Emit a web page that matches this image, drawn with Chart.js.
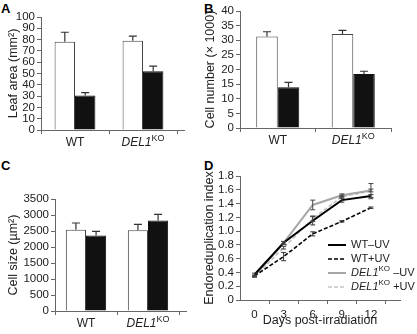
<!DOCTYPE html>
<html>
<head>
<meta charset="utf-8">
<script src="https://cdn.jsdelivr.net/npm/chart.js@4.4.0/dist/chart.umd.min.js"></script>
<style>
  body { margin: 0; background: #fff; width: 417px; height: 334px; position: relative; overflow: hidden; }
  canvas { position: absolute; }
  .lt { position: absolute; font: bold 13px 'Liberation Sans', Arial, sans-serif; line-height: 13px; color: #000; }
</style>
</head>
<body>
<div class="lt" style="left:1px;top:2px">A</div>
<div class="lt" style="left:204px;top:2px">B</div>
<div class="lt" style="left:1px;top:159px">C</div>
<div class="lt" style="left:204px;top:159px">D</div>
<canvas id="cA" width="200" height="160" style="left:0;top:0"></canvas>
<canvas id="cB" width="217" height="160" style="left:200px;top:0"></canvas>
<canvas id="cC" width="200" height="169" style="left:0;top:165px"></canvas>
<canvas id="cD" width="217" height="169" style="left:200px;top:165px"></canvas>
<script>
// data
const genotypes = ['WT', 'DEL1KO'];

const leafCtrl = [78, 79];
const leafCtrlErr = [8.5, 4];
const leafUV = [30.5, 52];
const leafUVErr = [2.5, 4.5];

const cellNumCtrl = [31.3, 32.1];
const cellNumCtrlErr = [1.6, 1.3];
const cellNumUV = [13.9, 18.5];
const cellNumUVErr = [1.7, 0.9];

const cellSizeCtrl = [2540, 2520];
const cellSizeCtrlErr = [210, 190];
const cellSizeUV = [2360, 2830];
const cellSizeUVErr = [130, 190];

const days = [0, 3, 6, 9, 12];
const endoTicks = [0, 0.2, 0.4, 0.6, 0.8, 1.0, 1.2, 1.4, 1.6, 1.8];
const lineNames = ['WT–UV', 'WT+UV', 'DEL1KO –UV', 'DEL1KO +UV'];
const wtMinus = [0.37, 0.83, 1.15, 1.45, 1.51];
const wtMinusErr = [0.02, 0.02, 0.06, 0.03, 0.02];
const wtPlus = [0.35, 0.63, 0.96, 1.14, 1.34];
const wtPlusErr = [0.01, 0.06, 0.03, 0.01, 0.01];
const delMinus = [0.35, 0.83, 1.38, 1.52, 1.59];
const delMinusErr = [0.01, 0.02, 0.07, 0.02, 0.02];
const delPlus = [0.34, 0.76, 1.18, 1.50, 1.58];
const delPlusErr = [0.01, 0.02, 0.04, 0.02, 0.11];

const FONT = "'Liberation Sans', Arial, sans-serif";
const axisCol = '#666';
const TICK = 11.5, TITLE = 12.5;
Chart.defaults.font.family = FONT;
Chart.defaults.font.size = TICK;
Chart.defaults.color = '#222';
Chart.defaults.animation = false;

// italic DEL1 with superscript KO
function richParts(t) {
  if (t.startsWith('DEL1KO')) {
    return [{ s: 'DEL1', f: 'i' }, { s: 'KO', f: 'sup' }, { s: t.slice(6), f: '' }];
  }
  return [{ s: t, f: '' }];
}
function partFont(p, size) {
  if (p.f === 'i') return 'italic ' + size + 'px ' + FONT;
  if (p.f === 'sup') return Math.round(size * 0.72) + 'px ' + FONT;
  return size + 'px ' + FONT;
}
function drawRich(ctx, t, x, y, align, size) {
  const parts = richParts(t);
  let total = 0;
  parts.forEach(p => { ctx.font = partFont(p, size); p.w = ctx.measureText(p.s).width; total += p.w; });
  let cx = align === 'center' ? x - total / 2 : x;
  ctx.textAlign = 'left';
  ctx.textBaseline = 'middle';
  parts.forEach(p => {
    ctx.font = partFont(p, size);
    ctx.fillText(p.s, cx, p.f === 'sup' ? y - size * 0.38 : y);
    cx += p.w;
  });
}

const extras = {
  id: 'extras',
  afterDatasetsDraw(chart, args, opts) {
    const ctx = chart.ctx;
    const ys = chart.scales.y;
    ctx.save();
    chart.data.datasets.forEach((ds, di) => {
      if (!ds.errors) return;
      const meta = chart.getDatasetMeta(di);
      ctx.strokeStyle = ds.errColor || '#333';
      ctx.lineWidth = ds.errWidth || 1.2;
      meta.data.forEach((el, i) => {
        const v = ds.data[i];
        const val = typeof v === 'object' ? v.y : v;
        const top = ys.getPixelForValue(val + ds.errors[i]);
        const bot = ds.errUpOnly ? el.y : ys.getPixelForValue(val - ds.errors[i]);
        const cw = ds.capW || 4;
        ctx.beginPath();
        ctx.moveTo(el.x, bot); ctx.lineTo(el.x, top);
        ctx.moveTo(el.x - cw, top); ctx.lineTo(el.x + cw, top);
        if (!ds.errUpOnly) { ctx.moveTo(el.x - cw, bot); ctx.lineTo(el.x + cw, bot); }
        ctx.stroke();
      });
    });
    ctx.restore();
  },
  afterDraw(chart, args, opts) {
    const ctx = chart.ctx;
    const area = chart.chartArea;
    ctx.save();
    if (opts.axisExt) {
      ctx.strokeStyle = axisCol;
      ctx.lineWidth = 1;
      ctx.beginPath();
      ctx.moveTo(area.right, area.bottom + 0.5);
      ctx.lineTo(area.right + opts.axisExt, area.bottom + 0.5);
      ctx.stroke();
    }
    if (opts.richX) {
      const xs = chart.scales.x;
      ctx.fillStyle = '#222';
      chart.data.labels.forEach((lab, i) => {
        drawRich(ctx, lab, xs.getPixelForTick(i), area.bottom + 13, 'center', 12);
      });
    }
    if (opts.legend) {
      const lg = opts.legend;
      chart.data.datasets.forEach((ds, i) => {
        const y = lg.y + i * lg.gap;
        ctx.strokeStyle = ds.borderColor;
        ctx.lineWidth = ds.borderWidth;
        ctx.setLineDash(ds.borderDash || []);
        ctx.beginPath();
        ctx.moveTo(lg.x, y); ctx.lineTo(lg.x + lg.len, y);
        ctx.stroke();
        ctx.setLineDash([]);
        ctx.fillStyle = '#222';
        drawRich(ctx, ds.label, lg.x + lg.len + 5, y, 'left', 11);
      });
    }
    ctx.restore();
  }
};

function barChart(id, p) {
  return new Chart(document.getElementById(id), {
    type: 'bar',
    data: {
      labels: genotypes,
      datasets: [
        { label: '−UV', data: p.ctrl, errors: p.ctrlErr, errUpOnly: true, capW: 4,
          backgroundColor: '#fff', borderColor: '#444', borderWidth: 1 },
        { label: '+UV', data: p.uv, errors: p.uvErr, errUpOnly: true, capW: 4,
          backgroundColor: '#111', borderColor: '#111', borderWidth: 1 }
      ]
    },
    options: {
      responsive: false,
      layout: { padding: { left: 0, top: p.top, right: p.w - p.right, bottom: 0 } },
      datasets: { bar: { categoryPercentage: p.catPct, barPercentage: 1 } },
      scales: {
        y: {
          min: 0, max: p.max,
          ticks: { stepSize: p.step, padding: 2, autoSkip: false, callback: v => String(v) },
          grid: { drawOnChartArea: false, tickLength: 4, color: axisCol },
          border: { color: axisCol },
          title: { display: true, text: p.title, font: { size: TITLE }, padding: { top: p.titlePad, bottom: 0 } },
          afterFit: s => { s.width = p.left; }
        },
        x: {
          grid: { offset: true, drawOnChartArea: false, tickLength: 4, color: axisCol },
          border: { color: axisCol },
          ticks: { color: 'transparent' },
          afterFit: s => { s.height = p.h - p.bottom; }
        }
      },
      plugins: {
        legend: { display: false },
        tooltip: { enabled: false },
        extras: { axisExt: p.ext, richX: true }
      }
    },
    plugins: [extras]
  });
}

barChart('cA', { ctrl: leafCtrl, ctrlErr: leafCtrlErr, uv: leafUV, uvErr: leafUVErr,
  max: 100, step: 10, title: 'Leaf area (mm²)', titlePad: 6,
  w: 200, h: 160, left: 41, right: 177, top: 17, bottom: 130, catPct: 0.6, ext: 8 });

barChart('cB', { ctrl: cellNumCtrl, ctrlErr: cellNumCtrlErr, uv: cellNumUV, uvErr: cellNumUVErr,
  max: 40, step: 5, title: 'Cell number (× 1000)', titlePad: 3,
  w: 217, h: 160, left: 40, right: 191, top: 11, bottom: 128, catPct: 0.57, ext: 0 });

barChart('cC', { ctrl: cellSizeCtrl, ctrlErr: cellSizeCtrlErr, uv: cellSizeUV, uvErr: cellSizeUVErr,
  max: 3500, step: 500, title: 'Cell size (µm²)', titlePad: 6,
  w: 200, h: 169, left: 55, right: 179, top: 34, bottom: 146, catPct: 0.65, ext: 8 });

// Panel D - endoreduplication line chart
const pts = arr => days.map((d, i) => ({ x: d, y: arr[i] }));
new Chart(document.getElementById('cD'), {
  type: 'line',
  data: {
    datasets: [
      { label: lineNames[0], data: pts(wtMinus), errors: wtMinusErr, borderColor: '#000', borderWidth: 2, capW: 2.5, errColor: '#333', errWidth: 1 },
      { label: lineNames[1], data: pts(wtPlus), errors: wtPlusErr, borderColor: '#000', borderWidth: 1.6, borderDash: [4, 2], capW: 2.5, errColor: '#333', errWidth: 1 },
      { label: lineNames[2], data: pts(delMinus), errors: delMinusErr, borderColor: '#a6a6a6', borderWidth: 2, capW: 2.5, errColor: '#444', errWidth: 1 },
      { label: lineNames[3], data: pts(delPlus), errors: delPlusErr, borderColor: '#c4c4c4', borderWidth: 1.6, borderDash: [4, 2], capW: 2.5, errColor: '#444', errWidth: 1 }
    ]
  },
  options: {
    responsive: false,
    layout: { padding: { left: 0, top: 11, right: 17, bottom: 0 } },
    elements: { point: { radius: 0 }, line: { tension: 0 } },
    scales: {
      y: {
        min: 0, max: 1.8,
        afterBuildTicks: s => { s.ticks = endoTicks.map(v => ({ value: v })); },
        ticks: { padding: 2, autoSkip: false, callback: v => v === 0 ? '0' : v.toFixed(1) },
        grid: { drawOnChartArea: false, tickLength: 4, color: axisCol },
        border: { color: axisCol },
        title: { display: true, text: 'Endoreduplication index', font: { size: TITLE }, padding: { top: 2, bottom: 0 } },
        afterFit: s => { s.width = 40; }
      },
      x: {
        type: 'linear', min: -1.5, max: 15,
        afterBuildTicks: s => {
          const t = [];
          days.forEach(d => { t.push({ value: d }); t.push({ value: d + 1.5 }); });
          s.ticks = t;
        },
        ticks: { padding: 4, maxRotation: 0, autoSkip: false, callback: v => (days.includes(v) ? String(v) : '') },
        grid: {
          drawOnChartArea: false, tickLength: 4, color: axisCol,
          tickColor: c => (c.tick && days.includes(c.tick.value) ? 'rgba(0,0,0,0)' : axisCol)
        },
        border: { color: axisCol },
        title: { display: true, text: 'Days post-irradiation', font: { size: TITLE }, padding: { top: 0, bottom: 6 } },
        afterFit: s => { s.height = 169 - 135; }
      }
    },
    plugins: {
      legend: { display: false },
      tooltip: { enabled: false },
      extras: { legend: { x: 128, y: 80, gap: 14, len: 18 } }
    }
  },
  plugins: [extras]
});
</script>
</body>
</html>
